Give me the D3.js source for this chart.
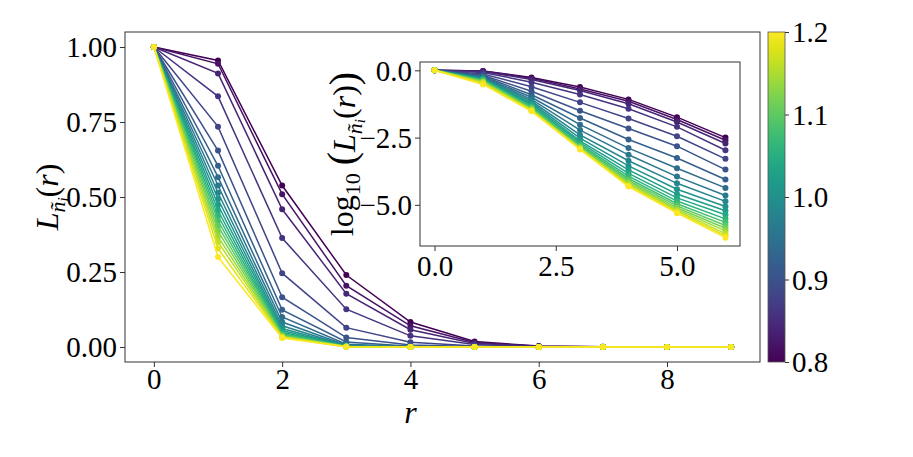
<!DOCTYPE html>
<html>
<head>
<meta charset="utf-8">
<script src="https://cdn.jsdelivr.net/npm/d3@7"></script>
<style>
  body { margin: 0; background: #fff; }
  text { font-family: "Liberation Serif", "DejaVu Serif", serif; fill: #000; }
</style>
</head>
<body>
<div class="canvas"></div>
<script>
// parameter for each curve (colour bar value)
const gammas = [0.80, 0.82, 0.84, 0.86, 0.88, 0.90, 0.92, 0.94, 0.96, 0.98, 1.00,
                1.02, 1.04, 1.06, 1.08, 1.10, 1.12, 1.14, 1.16, 1.18, 1.20];
const distances = [0, 1, 2, 3, 4, 5, 6, 7, 8, 9];

// log10 L(r), one array per distance r, one entry per gamma
const logL_r0 = gammas.map(() => 0);
const logL_r1 = [-0.020, -0.025, -0.040, -0.078, -0.134, -0.184, -0.219, -0.247, -0.269, -0.289, -0.307,
                 -0.325, -0.342, -0.359, -0.376, -0.394, -0.413, -0.434, -0.456, -0.484, -0.523];
const logL_r2 = [-0.269, -0.293, -0.338, -0.440, -0.609, -0.780, -0.907, -1.00, -1.08, -1.15, -1.21,
                 -1.26, -1.31, -1.35, -1.38, -1.41, -1.44, -1.46, -1.48, -1.50, -1.52];
const logL_r3 = [-0.62, -0.69, -0.75, -0.90, -1.19, -1.50, -1.77, -2.02, -2.22, -2.40, -2.52,
                 -2.62, -2.69, -2.75, -2.80, -2.84, -2.86, -2.89, -2.91, -2.92, -2.94];
const logL_r4 = [-1.08, -1.15, -1.24, -1.43, -1.79, -2.16, -2.57, -2.89, -3.14, -3.36, -3.55,
                 -3.70, -3.83, -3.93, -4.02, -4.09, -4.15, -4.20, -4.25, -4.29, -4.32];
const logL_r5 = [-1.74, -1.83, -1.92, -2.10, -2.45, -2.82, -3.26, -3.64, -3.95, -4.20, -4.42,
                 -4.60, -4.74, -4.86, -4.96, -5.04, -5.11, -5.17, -5.22, -5.27, -5.31];
const logL_r6 = [-2.50, -2.60, -2.72, -2.97, -3.29, -3.69, -4.06, -4.37, -4.65, -4.87, -5.06,
                 -5.22, -5.37, -5.52, -5.65, -5.77, -5.87, -5.97, -6.07, -6.15, -6.22];
const logL_r7 = [-3.25, -3.36, -3.50, -3.78, -4.13, -4.56, -4.95, -5.28, -5.57, -5.80, -6.00,
                 -6.17, -6.33, -6.48, -6.62, -6.74, -6.85, -6.95, -7.05, -7.13, -7.21];
const logL_r8 = [-4.00, -4.12, -4.28, -4.58, -4.96, -5.42, -5.83, -6.18, -6.49, -6.73, -6.94,
                 -7.12, -7.29, -7.45, -7.59, -7.72, -7.83, -7.94, -8.04, -8.12, -8.20];
const logL_r9 = [-4.75, -4.88, -5.05, -5.38, -5.78, -6.27, -6.70, -7.07, -7.39, -7.65, -7.87,
                 -8.06, -8.24, -8.40, -8.55, -8.68, -8.80, -8.91, -9.01, -9.10, -9.18];

const mainTicksX = [0, 2, 4, 6, 8];
const mainTicksY = [0, 0.25, 0.5, 0.75, 1.0];
const insetTicksX = [0, 2.5, 5];
const insetTicksY = [0, -2.5, -5];
const cbarTicks = [0.8, 0.9, 1.0, 1.1, 1.2];
const insetMaxR = 6;

const columns = [logL_r0, logL_r1, logL_r2, logL_r3, logL_r4, logL_r5, logL_r6, logL_r7, logL_r8, logL_r9];
const series = gammas.map((g, i) => ({
  g,
  pts: distances.map((r, j) => ({ r, log: columns[j][i], val: Math.pow(10, columns[j][i]) }))
}));

const W = 913, H = 457;
const svg = d3.select('.canvas').append('svg')
  .attr('width', W).attr('height', H);

const colour = d3.scaleSequential(d3.interpolateViridis).domain([0.8, 1.2]);
const fs = 29;

// ---------- main axes ----------
const M = { left: 125, top: 32, right: 760, bottom: 362 };
const x = d3.scaleLinear().domain([-0.45, 9.45]).range([M.left, M.right]);
const y = d3.scaleLinear().domain([-0.05, 1.05]).range([M.bottom, M.top]);

const line = d3.line().x(d => x(d.r)).y(d => y(d.val));

const mainG = svg.append('g');
series.forEach(s => {
  const g = mainG.append('g');
  g.append('path')
    .attr('d', line(s.pts))
    .attr('fill', 'none')
    .attr('stroke', colour(s.g))
    .attr('stroke-width', 1.5);
  g.selectAll('circle').data(s.pts).enter().append('circle')
    .attr('cx', d => x(d.r)).attr('cy', d => y(d.val))
    .attr('r', 3).attr('fill', colour(s.g));
});

const xAxis = svg.append('g')
  .attr('transform', `translate(0,${M.bottom})`)
  .call(d3.axisBottom(x).tickValues(mainTicksX).tickSize(5).tickPadding(2).tickFormat(d3.format('d')));
const yAxis = svg.append('g')
  .attr('transform', `translate(${M.left},0)`)
  .call(d3.axisLeft(y).tickValues(mainTicksY).tickSize(5).tickPadding(3).tickFormat(d3.format('.2f')));

svg.append('rect')
  .attr('x', M.left).attr('y', M.top)
  .attr('width', M.right - M.left).attr('height', M.bottom - M.top)
  .attr('fill', 'none').attr('stroke', '#333').attr('stroke-width', 1);

// ---------- inset ----------
const I = { left: 420, top: 62, right: 740, bottom: 246 };
const xi = d3.scaleLinear().domain([-0.3, 6.3]).range([I.left, I.right]);
const yi = d3.scaleLinear().domain([-6.53, 0.31]).range([I.bottom, I.top]);

svg.append('rect')
  .attr('x', I.left).attr('y', I.top)
  .attr('width', I.right - I.left).attr('height', I.bottom - I.top)
  .attr('fill', '#fff');

const lineI = d3.line().x(d => xi(d.r)).y(d => yi(d.log));
const insetG = svg.append('g');
series.forEach(s => {
  const pts = s.pts.filter(d => d.r <= insetMaxR);
  const g = insetG.append('g');
  g.append('path')
    .attr('d', lineI(pts))
    .attr('fill', 'none')
    .attr('stroke', colour(s.g))
    .attr('stroke-width', 1.5);
  g.selectAll('circle').data(pts).enter().append('circle')
    .attr('cx', d => xi(d.r)).attr('cy', d => yi(d.log))
    .attr('r', 3).attr('fill', colour(s.g));
});

const xAxisI = svg.append('g')
  .attr('transform', `translate(0,${I.bottom})`)
  .call(d3.axisBottom(xi).tickValues(insetTicksX).tickSize(5).tickPadding(5).tickFormat(d3.format('.1f')));
const yAxisI = svg.append('g')
  .attr('transform', `translate(${I.left},0)`)
  .call(d3.axisLeft(yi).tickValues(insetTicksY).tickSize(5).tickPadding(3).tickFormat(d3.format('.1f')));

svg.append('rect')
  .attr('x', I.left).attr('y', I.top)
  .attr('width', I.right - I.left).attr('height', I.bottom - I.top)
  .attr('fill', 'none').attr('stroke', '#333').attr('stroke-width', 1);

// ---------- colour bar ----------
const C = { left: 768, right: 785, top: 32, bottom: 362 };
const yc = d3.scaleLinear().domain([0.8, 1.2]).range([C.bottom, C.top]);
const defs = svg.append('defs');
const grad = defs.append('linearGradient').attr('id', 'viridis')
  .attr('x1', 0).attr('y1', 1).attr('x2', 0).attr('y2', 0);
d3.range(0, 1.0001, 0.05).forEach(t => {
  grad.append('stop').attr('offset', t).attr('stop-color', d3.interpolateViridis(t));
});
svg.append('rect')
  .attr('x', C.left).attr('y', C.top)
  .attr('width', C.right - C.left).attr('height', C.bottom - C.top)
  .attr('fill', 'url(#viridis)').attr('stroke', '#555').attr('stroke-width', 0.8);
const cAxis = svg.append('g')
  .attr('transform', `translate(${C.right},0)`)
  .call(d3.axisRight(yc).tickValues(cbarTicks).tickSize(4).tickPadding(3).tickFormat(d3.format('.1f')));

// axis styling
[xAxis, yAxis, xAxisI, yAxisI, cAxis].forEach(a => {
  a.select('.domain').remove();
  a.selectAll('line').attr('stroke', '#333');
  a.selectAll('text')
    .style('font-family', '"Liberation Serif", serif')
    .style('font-size', fs + 'px')
    .attr('fill', '#000');
});
[yAxis, yAxisI, cAxis].forEach(a => a.selectAll('text').attr('dy', '0.34em'));
[xAxis, xAxisI].forEach(a => a.selectAll('text').attr('dy', '0.7em'));

// ---------- labels ----------
const lblSize = 32;
svg.append('text')
  .attr('x', x(4)).attr('y', 423)
  .attr('text-anchor', 'middle')
  .style('font-size', lblSize + 'px')
  .style('font-style', 'italic')
  .text('r');

// builds  L_{ñ_i}(r)  inside a text element
const addL = (t) => {
  t.append('tspan').style('font-style', 'italic').text('L');
  t.append('tspan').style('font-style', 'italic').attr('dy', 7).style('font-size', '22px').text('ñ');
  t.append('tspan').style('font-style', 'italic').attr('dy', 3).style('font-size', '15px').text('i');
  t.append('tspan').attr('dy', -10).text('(');
  t.append('tspan').style('font-style', 'italic').text('r');
  t.append('tspan').text(')');
};

const yl = svg.append('text')
  .attr('transform', `translate(58,${(M.top + M.bottom) / 2}) rotate(-90)`)
  .attr('text-anchor', 'middle')
  .style('font-size', lblSize + 'px');
addL(yl);

const yli = svg.append('text')
  .attr('transform', `translate(353,${(I.top + I.bottom) / 2}) rotate(-90)`)
  .attr('text-anchor', 'middle')
  .style('font-size', lblSize + 'px');
yli.append('tspan').text('log');
yli.append('tspan').attr('dy', 7).style('font-size', '22px').text('10');
yli.append('tspan').attr('dy', -5).style('font-size', '40px').text('\u2009(');
yli.append('tspan').attr('dy', -2).text('');
addL(yli);
yli.append('tspan').attr('dy', 2).style('font-size', '40px').text(')');
</script>
</body>
</html>
